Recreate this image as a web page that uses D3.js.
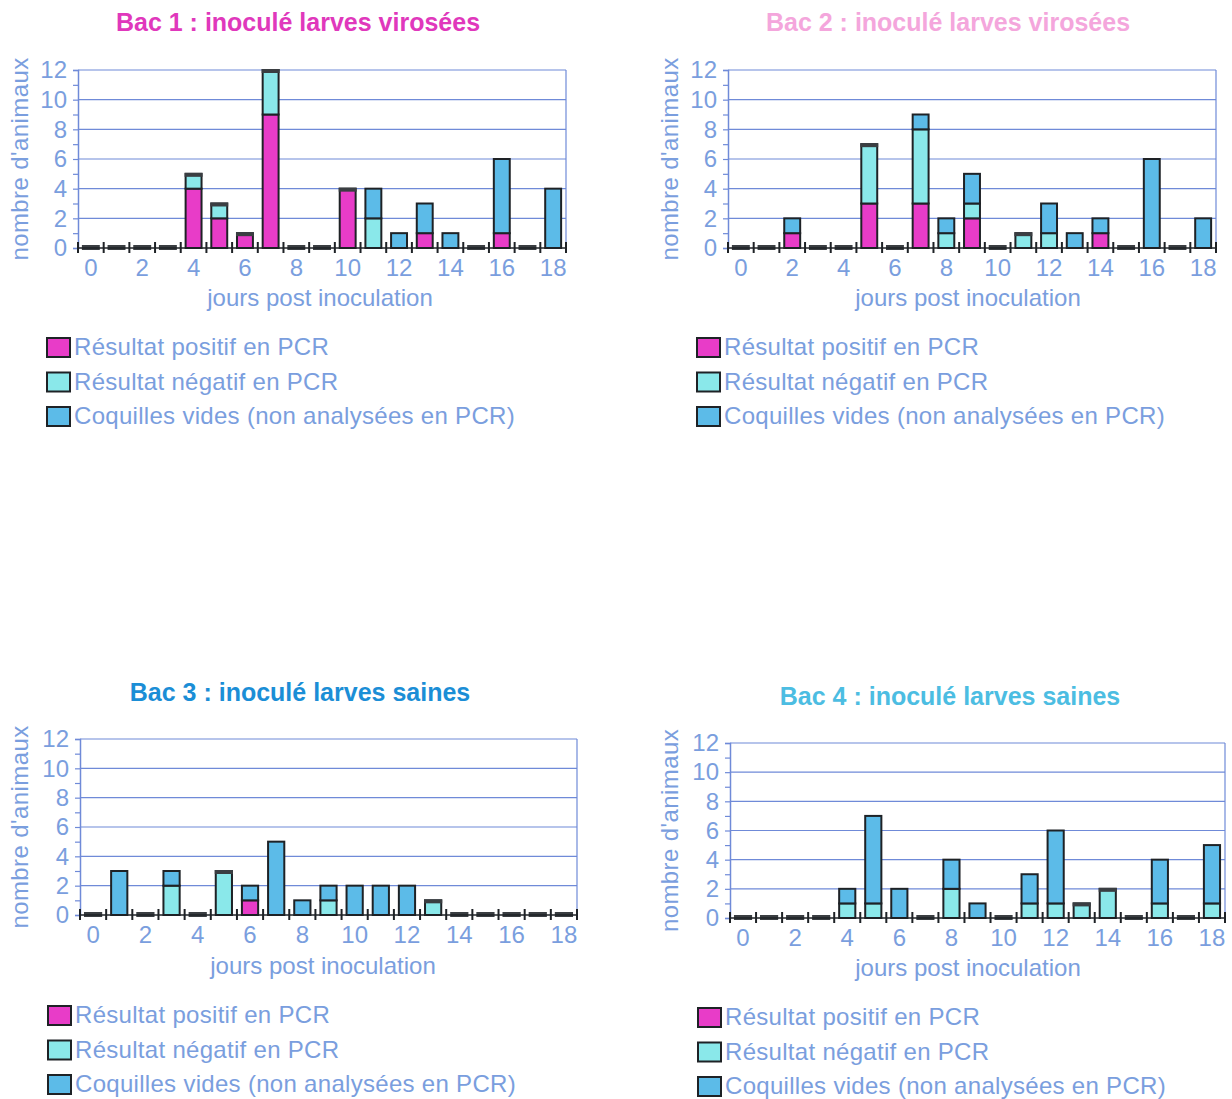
<!DOCTYPE html>
<html>
<head>
<meta charset="utf-8">
<script src="https://cdn.jsdelivr.net/npm/d3@7"></script>
<style>
  body { margin: 0; background: #fff; }
  text { font-family: "Liberation Sans", Arial, sans-serif; }
</style>
</head>
<body>
<div id="chart"></div>
<script>
// Days post inoculation (categories)
const days = d3.range(0, 19);
const yTicks = [0, 2, 4, 6, 8, 10, 12];
const seriesKeys = ["pos", "neg", "vide"];
const seriesLabels = ["Résultat positif en PCR", "Résultat négatif en PCR", "Coquilles vides (non analysées en PCR)"];
const seriesColors = ["#e83cc8", "#8ae8ea", "#5cbbe8"];

// Bac 1 : inoculé larves virosées
const bac1Pos  = [0,0,0,0,4,2,1,9,0,0,4,0,0,1,0,0,1,0,0];
const bac1Neg  = [0,0,0,0,1,1,0,3,0,0,0,2,0,0,0,0,0,0,0];
const bac1Vide = [0,0,0,0,0,0,0,0,0,0,0,2,1,2,1,0,5,0,4];
// Bac 2 : inoculé larves virosées
const bac2Pos  = [0,0,1,0,0,3,0,3,0,2,0,0,0,0,1,0,0,0,0];
const bac2Neg  = [0,0,0,0,0,4,0,5,1,1,0,1,1,0,0,0,0,0,0];
const bac2Vide = [0,0,1,0,0,0,0,1,1,2,0,0,2,1,1,0,6,0,2];
// Bac 3 : inoculé larves saines
const bac3Pos  = [0,0,0,0,0,0,1,0,0,0,0,0,0,0,0,0,0,0,0];
const bac3Neg  = [0,0,0,2,0,3,0,0,0,1,0,0,0,1,0,0,0,0,0];
const bac3Vide = [0,3,0,1,0,0,1,5,1,1,2,2,2,0,0,0,0,0,0];
// Bac 4 : inoculé larves saines
const bac4Pos  = [0,0,0,0,0,0,0,0,0,0,0,0,0,0,0,0,0,0,0];
const bac4Neg  = [0,0,0,0,1,1,0,0,2,0,0,1,1,1,2,0,1,0,1];
const bac4Vide = [0,0,0,0,1,6,2,0,2,1,0,2,5,0,0,0,3,0,4];

const charts = [
  { title: "Bac 1 : inoculé larves virosées", titleColor: "#e038bc", pos: bac1Pos, neg: bac1Neg, vide: bac1Vide,
    x0: 78, x1: 566, yTop: 70, yBot: 248, titleX: 298, titleY: 31, xTitleX: 320, xTitleY: 306, yTitleX: 28, legX: 47, legY: 347 },
  { title: "Bac 2 : inoculé larves virosées", titleColor: "#f4a6dc", pos: bac2Pos, neg: bac2Neg, vide: bac2Vide,
    x0: 728, x1: 1216, yTop: 70, yBot: 248, titleX: 948, titleY: 31, xTitleX: 968, xTitleY: 306, yTitleX: 678, legX: 697, legY: 347 },
  { title: "Bac 3 : inoculé larves saines", titleColor: "#1b8ed6", pos: bac3Pos, neg: bac3Neg, vide: bac3Vide,
    x0: 80, x1: 577, yTop: 739, yBot: 915, titleX: 300, titleY: 701, xTitleX: 323, xTitleY: 974, yTitleX: 28, legX: 48, legY: 1015 },
  { title: "Bac 4 : inoculé larves saines", titleColor: "#4cbde2", pos: bac4Pos, neg: bac4Neg, vide: bac4Vide,
    x0: 730, x1: 1225, yTop: 743, yBot: 918, titleX: 950, titleY: 705, xTitleX: 968, xTitleY: 976, yTitleX: 678, legX: 698, legY: 1017 }
];

const svg = d3.select("#chart")
  .append("svg")
  .attr("width", 1232)
  .attr("height", 1099);

const axisColor = "#7a9ede";
const gridColor = "#6f8ad8";

charts.forEach(c => {
  const g = svg.append("g");

  const x = d3.scaleBand().domain(days).range([c.x0, c.x1]).padding(0);
  const y = d3.scaleLinear().domain([0, 12]).range([c.yBot, c.yTop]);
  const barW = x.bandwidth() * 0.62;

  // Title
  g.append("text")
    .attr("x", c.titleX).attr("y", c.titleY)
    .attr("text-anchor", "middle")
    .style("font-size", "25px").style("font-weight", "bold")
    .attr("fill", c.titleColor)
    .text(c.title);

  // Gridlines
  g.append("g").selectAll("line")
    .data(yTicks.filter(t => t > 0))
    .join("line")
    .attr("x1", c.x0).attr("x2", c.x1)
    .attr("y1", d => y(d)).attr("y2", d => y(d))
    .attr("stroke", gridColor).attr("stroke-width", 1.2);

  // Right border
  g.append("line")
    .attr("x1", c.x1).attr("x2", c.x1).attr("y1", c.yTop).attr("y2", c.yBot)
    .attr("stroke", gridColor).attr("stroke-width", 1.2);

  // Y axis with minor ticks
  const yAxis = g.append("g")
    .attr("transform", `translate(${c.x0},0)`)
    .call(d3.axisLeft(y).tickValues(d3.range(0, 13)).tickSize(5).tickFormat(d => d % 2 === 0 ? d : ""));
  yAxis.select(".domain").attr("stroke", gridColor).attr("stroke-width", 1.5);
  yAxis.selectAll(".tick line").attr("stroke", gridColor).attr("stroke-width", 1.2);
  yAxis.selectAll(".tick text")
    .attr("fill", axisColor).style("font-size", "24px").attr("x", -11);

  // Stacked bars
  const rows = days.map((d, i) => ({ day: d, pos: c.pos[i], neg: c.neg[i], vide: c.vide[i] }));
  const stacked = d3.stack().keys(seriesKeys)(rows);
  const total = d => d.data.pos + d.data.neg + d.data.vide;

  stacked.forEach((layer, li) => {
    g.append("g").selectAll("rect")
      .data(layer.filter(d => d[1] > d[0]))
      .join("rect")
      .attr("x", d => x(d.data.day) + (x.bandwidth() - barW) / 2)
      .attr("y", d => y(d[1]))
      .attr("width", barW)
      .attr("height", d => y(d[0]) - y(d[1]))
      .attr("fill", seriesColors[li])
      .attr("stroke", "#1e2226").attr("stroke-width", 2);
  });

  // Zero-value segment on top of a stack shows as a dark strip
  const topZeros = stacked[2].filter(d => d[1] === d[0] || total(d) === 0);
  g.append("g").selectAll("rect")
    .data(topZeros)
    .join("rect")
    .attr("x", d => x(d.data.day) + (x.bandwidth() - barW) / 2 - 1)
    .attr("y", d => total(d) === 0 ? y(0) - 3 : y(d[1]) - 1)
    .attr("width", barW + 2)
    .attr("height", d => total(d) === 0 ? 5 : 4)
    .attr("fill", "#3a3e42");

  // X axis: black line with ticks between categories
  g.append("line")
    .attr("x1", c.x0).attr("x2", c.x1).attr("y1", c.yBot).attr("y2", c.yBot)
    .attr("stroke", "#1e2226").attr("stroke-width", 1.5);
  g.append("g").selectAll("line")
    .data(days.concat([days.length]))
    .join("line")
    .attr("x1", d => d < days.length ? x(d) : c.x1)
    .attr("x2", d => d < days.length ? x(d) : c.x1)
    .attr("y1", c.yBot - 6).attr("y2", c.yBot + 5)
    .attr("stroke", "#1e2226").attr("stroke-width", 2);

  // X tick labels (every other day)
  g.append("g").selectAll("text")
    .data(days.filter(d => d % 2 === 0))
    .join("text")
    .attr("x", d => x(d) + x.bandwidth() / 2)
    .attr("y", c.yBot + 28)
    .attr("text-anchor", "middle")
    .attr("fill", axisColor)
    .style("font-size", "24px")
    .text(d => d);

  // Axis titles
  g.append("text")
    .attr("x", c.xTitleX).attr("y", c.xTitleY)
    .attr("text-anchor", "middle")
    .attr("fill", axisColor).style("font-size", "24px")
    .text("jours post inoculation");

  g.append("text")
    .attr("transform", `translate(${c.yTitleX},${(c.yTop + c.yBot) / 2}) rotate(-90)`)
    .attr("text-anchor", "middle")
    .attr("fill", axisColor).style("font-size", "24px")
    .style("letter-spacing", "0.4px")
    .text("nombre d'animaux");

  // Legend
  const leg = g.append("g").selectAll("g")
    .data(seriesLabels)
    .join("g")
    .attr("transform", (d, i) => `translate(${c.legX},${c.legY + i * 34.5})`);
  leg.append("rect")
    .attr("x", 0).attr("y", -9).attr("width", 23).attr("height", 19)
    .attr("fill", (d, i) => seriesColors[i])
    .attr("stroke", "#1e2226").attr("stroke-width", 2);
  leg.append("text")
    .attr("x", 27).attr("y", 8)
    .attr("fill", axisColor).style("font-size", "24px")
    .style("letter-spacing", "0.3px")
    .text(d => d);
});
</script>
</body>
</html>
